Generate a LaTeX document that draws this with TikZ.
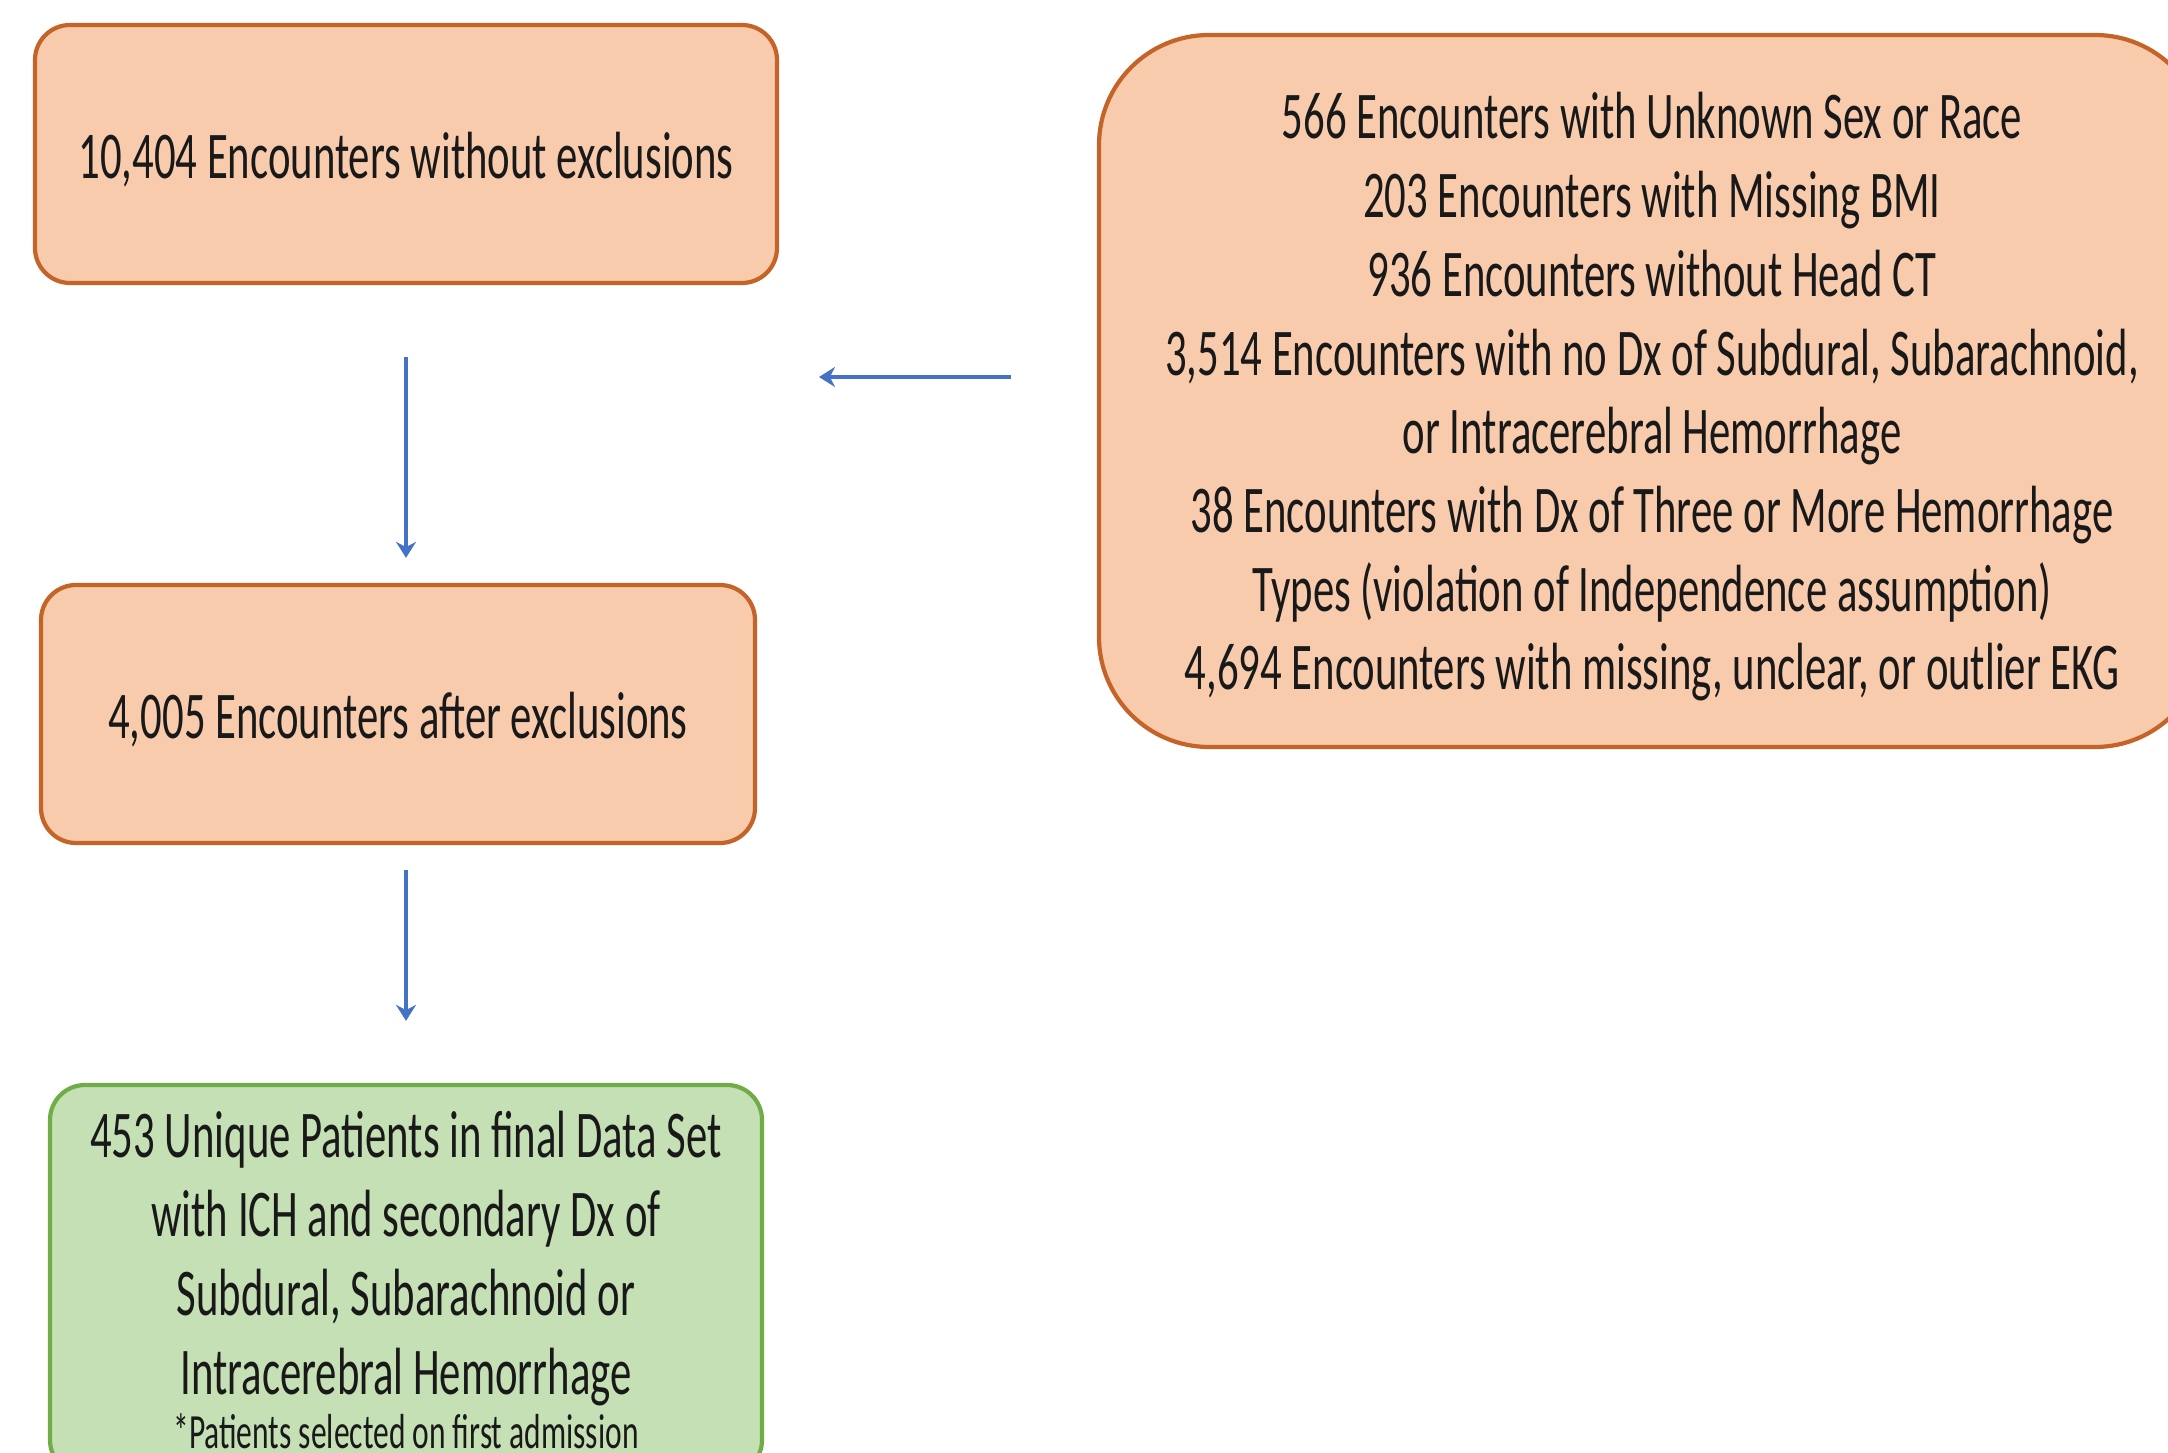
\documentclass[tikz,border=0pt]{standalone}
\usepackage{fontspec}
\setmainfont[FakeStretch=0.64]{Carlito}
\usetikzlibrary{calc,arrows.meta}
\definecolor{peach}{RGB}{248,203,173}
\definecolor{rust}{RGB}{197,100,40}
\definecolor{sage}{RGB}{197,224,180}
\definecolor{leaf}{RGB}{112,173,71}
\definecolor{flowblue}{RGB}{68,114,196}
\def\lift{\rule{0pt}{16.6pt}}
\tikzset{
	stepbox/.style={draw=rust, fill=peach, line width=1.2pt, rounded corners=0.35cm, inner sep=0pt, align=center, text=black!90, font=\fontsize{19}{22.4}\selectfont},
	finalbox/.style={stepbox, draw=leaf, fill=sage},
	flow/.style={draw=flowblue, line width=1.1pt, -{Stealth[length=1.6mm,width=2mm]}}
}

\begin{document}
\begin{tikzpicture}
			%%%%% START %%%%%
			
			\clip (0, 0) rectangle (21.68, -14.53);
			
			\node[stepbox, minimum width=7.42cm, minimum height=2.58cm] (start) at (4.06, -1.54) {\lift 10,404 Encounters without exclusions};
			
			\node[stepbox, minimum width=7.14cm, minimum height=2.58cm] (after) at (3.98, -7.14) {\lift 4,005 Encounters after exclusions};
			
			\node[finalbox, minimum width=7.12cm, minimum height=3.9cm] (final) at (4.06, -12.8) {453 Unique Patients in final Data Set\\ with ICH and secondary Dx of\\ Subdural, Subarachnoid or\\ Intracerebral Hemorrhage\\[-7pt] {\fontsize{14}{16}\selectfont *Patients selected on first admission}};
			
			\node[stepbox, rounded corners=1.1cm, minimum width=11.06cm, minimum height=7.12cm] (excl) at (16.52, -3.91) {\lift 566 Encounters with Unknown Sex or Race\\ 203 Encounters with Missing BMI\\ 936 Encounters without Head CT\\ 3,514 Encounters with no Dx of Subdural, Subarachnoid,\\ or Intracerebral Hemorrhage\\ 38 Encounters with Dx of Three or More Hemorrhage\\ Types (violation of Independence assumption)\\ 4,694 Encounters with missing, unclear, or outlier EKG};
			
			\coordinate (gap) at (8.19, -3.77);
			
			\draw[flow] ([yshift=-0.72cm]start.south) -- ([yshift=0.25cm]start.south |- after.north);
			\draw[flow] ([yshift=-0.25cm]start.south |- after.south) -- ([yshift=0.62cm]start.south |- final.north);
			\draw[flow] ([xshift=-0.86cm]excl.west |- gap) -- (gap);
			
			%%%%% END %%%%%
\end{tikzpicture}
\end{document}
